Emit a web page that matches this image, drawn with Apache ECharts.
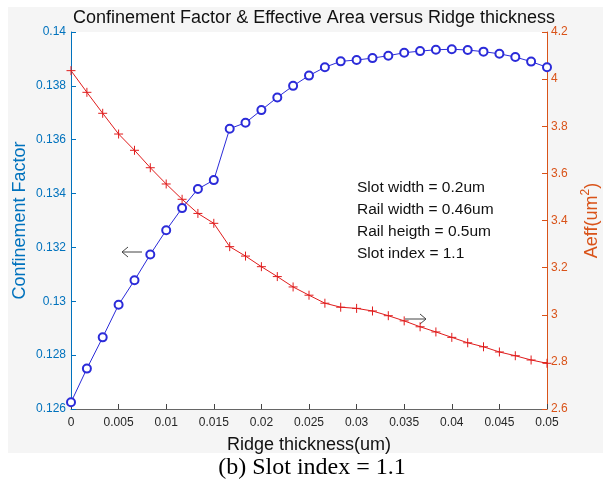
<!DOCTYPE html>
<html>
<head>
<meta charset="utf-8">
<script src="https://cdn.jsdelivr.net/npm/echarts@6/dist/echarts.min.js"></script>
<style>
  html, body { margin: 0; padding: 0; background: #fff; }
  #main { width: 603px; height: 488px; }
</style>
</head>
<body>
<div id="main"></div>
<script>
// ridge thickness (um)
const thickness = [0, 0.00167, 0.00333, 0.005, 0.00667, 0.00833, 0.01, 0.01167, 0.01333, 0.015,
  0.01667, 0.01833, 0.02, 0.02167, 0.02333, 0.025, 0.02667, 0.02833, 0.03, 0.03167,
  0.03333, 0.035, 0.03667, 0.03833, 0.04, 0.04167, 0.04333, 0.045, 0.04667, 0.04833, 0.05];

// confinement factor (left axis)
const confinement = [0.12625, 0.1275, 0.12866, 0.12987, 0.13078, 0.13174, 0.13264, 0.13346, 0.13417, 0.1345,
  0.13641, 0.13663, 0.1371, 0.13757, 0.138, 0.13838, 0.13869, 0.13891, 0.13896, 0.13903,
  0.13912, 0.13923, 0.13929, 0.13934, 0.13936, 0.13933, 0.13927, 0.13919, 0.13907, 0.1389, 0.13869];

// effective area Aeff in um^2 (right axis)
const aeff = [4.036, 3.944, 3.855, 3.767, 3.698, 3.624, 3.555, 3.49, 3.43, 3.388,
  3.289, 3.249, 3.204, 3.162, 3.118, 3.083, 3.049, 3.032, 3.027, 3.016,
  2.996, 2.974, 2.949, 2.927, 2.904, 2.881, 2.864, 2.842, 2.826, 2.808, 2.794];

const notes = ['Slot width = 0.2um', 'Rail width = 0.46um', 'Rail heigth = 0.5um', 'Slot index = 1.1'];

const FONT = 'Liberation Sans, Arial, sans-serif';
const LEFT_C = '#0072BD';
const RIGHT_C = '#D95319';

const chart = echarts.init(document.getElementById('main'));

const option = {
  backgroundColor: '#fff',
  animation: false,
  title: {
    text: 'Confinement Factor & Effective Area versus Ridge thickness',
    left: 309,
    top: 4,
    textAlign: 'center',
    textStyle: { fontFamily: FONT, fontSize: 18, fontWeight: 'normal', color: '#111' }
  },
  grid: {
    left: 71, right: 56, top: 32, bottom: 79,
    outerBoundsMode: 'none',
    containLabel: false,
    show: true, backgroundColor: '#fff', borderWidth: 0
  },
  xAxis: {
    type: 'value',
    min: 0, max: 0.05, interval: 0.005,
    name: 'Ridge thickness(um)',
    nameLocation: 'middle',
    nameGap: 27,
    nameMoveOverlap: false,
    nameTextStyle: { fontFamily: FONT, fontSize: 18, color: '#111' },
    axisLine: { lineStyle: { color: '#666', width: 1 } },
    axisTick: { inside: true, length: 5, lineStyle: { color: '#444' } },
    axisLabel: { fontFamily: FONT, fontSize: 12, color: '#262626', margin: 8 },
    splitLine: { show: false }
  },
  yAxis: [
    {
      type: 'value',
      min: 0.126, max: 0.14, interval: 0.002,
      name: 'Confinement Factor',
      nameLocation: 'middle',
      nameRotate: 90,
      nameGap: 42,
      nameMoveOverlap: false,
      nameTextStyle: { fontFamily: FONT, fontSize: 18, color: LEFT_C },
      axisLine: { show: true, lineStyle: { color: LEFT_C, width: 1 } },
      axisTick: { show: true, inside: true, length: 5, lineStyle: { color: LEFT_C } },
      axisLabel: { fontFamily: FONT, fontSize: 12, color: LEFT_C, margin: 5 },
      splitLine: { show: false }
    },
    {
      type: 'value',
      position: 'right',
      min: 2.6, max: 4.2, interval: 0.2,
      name: 'Aeff(um{sup|2})',
      nameLocation: 'middle',
      nameRotate: 90,
      nameGap: 33,
      nameMoveOverlap: false,
      nameTextStyle: {
        fontFamily: FONT, fontSize: 18, color: RIGHT_C,
        rich: { sup: { fontFamily: FONT, fontSize: 12, color: RIGHT_C, padding: [0, 0, 12, 0] } }
      },
      axisLine: { show: true, lineStyle: { color: RIGHT_C, width: 1 } },
      axisTick: { show: true, inside: true, length: 5, lineStyle: { color: RIGHT_C } },
      axisLabel: { fontFamily: FONT, fontSize: 12, color: RIGHT_C, margin: 4 },
      splitLine: { show: false }
    }
  ],
  series: [
    {
      name: 'Confinement Factor',
      type: 'line',
      yAxisIndex: 0,
      data: thickness.map((t, i) => [t, confinement[i]]),
      symbol: 'emptyCircle',
      symbolSize: 8,
      lineStyle: { color: '#2b2bd9', width: 1 },
      itemStyle: { color: '#2b2bd9', borderColor: '#2b2bd9', borderWidth: 1 }
    },
    {
      name: 'Aeff',
      type: 'line',
      yAxisIndex: 1,
      data: thickness.map((t, i) => [t, aeff[i]]),
      symbol: 'path://M5 0 L5 10 M0 5 L10 5',
      symbolSize: 9,
      lineStyle: { color: '#e01c1c', width: 1 },
      itemStyle: { color: '#e01c1c', borderColor: '#e01c1c', borderWidth: 1 }
    }
  ],
  graphic: [
    {
      type: 'rect', z: -100, silent: true,
      shape: { x: 8, y: 7, width: 595, height: 446 },
      style: { fill: '#f5f5f5' }
    },
    ...notes.map((s, i) => ({
      type: 'text', z: 100,
      style: {
        x: 357, y: 188 + i * 22, text: s,
        fontFamily: FONT, fontSize: 15.5, fill: '#111', verticalAlign: 'middle'
      }
    })),
    // arrows pointing to each curve's axis
    {
      type: 'group', z: 100,
      children: [
        { type: 'line', shape: { x1: 122, y1: 252, x2: 142, y2: 252 }, style: { stroke: '#444', lineWidth: 1 } },
        { type: 'polyline', shape: { points: [[128, 247], [122, 252], [128, 257]] }, style: { stroke: '#444', lineWidth: 1, fill: null } },
        { type: 'line', shape: { x1: 405, y1: 319, x2: 426, y2: 319 }, style: { stroke: '#444', lineWidth: 1 } },
        { type: 'polyline', shape: { points: [[420, 314], [426, 319], [420, 324]] }, style: { stroke: '#444', lineWidth: 1, fill: null } }
      ]
    },
    {
      type: 'text', z: 100,
      style: {
        x: 312, y: 468, text: '(b) Slot index = 1.1',
        fontFamily: 'Liberation Serif, Times New Roman, serif', fontSize: 24,
        fill: '#000', align: 'center', verticalAlign: 'middle'
      }
    }
  ]
};

chart.setOption(option);
</script>
</body>
</html>
